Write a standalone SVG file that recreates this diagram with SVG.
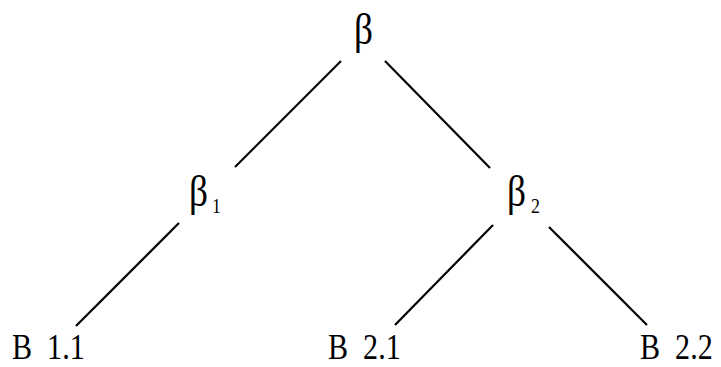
<svg xmlns="http://www.w3.org/2000/svg" width="721" height="367" viewBox="0 0 721 367">
<style>
text{font-family:"Liberation Serif","Times New Roman",serif;fill:#000;white-space:pre}
.g{font-size:44px}
.s{font-size:21px}
.b{font-size:35px}
line{stroke:#000;stroke-width:2.2;stroke-linecap:butt}
</style>
<rect width="721" height="367" fill="#fff"/>
<g id="connectors">
<line x1="341" y1="61" x2="235" y2="167"/>
<line x1="385" y1="61" x2="490" y2="168"/>
<line x1="179" y1="223" x2="76" y2="326"/>
<line x1="493" y1="225" x2="395" y2="325"/>
<line x1="549" y1="227" x2="647" y2="325"/>
</g>
<g id="beta"><text class="g" transform="translate(354,44) scale(0.85,1)">β</text></g>
<g id="beta1"><text class="g" transform="translate(189,206) scale(0.85,1)">β</text><text class="s" transform="translate(212,213) scale(0.85,1)">1</text></g>
<g id="beta2"><text class="g" transform="translate(507,206) scale(0.85,1)">β</text><text class="s" transform="translate(531,213) scale(0.85,1)">2</text></g>
<g id="b11"><text class="b" transform="translate(12,359) scale(0.86,1)">B  1.1</text></g>
<g id="b21"><text class="b" transform="translate(328,359) scale(0.86,1)">B  2.1</text></g>
<g id="b22"><text class="b" transform="translate(640,359) scale(0.86,1)">B  2.2</text></g>
</svg>
